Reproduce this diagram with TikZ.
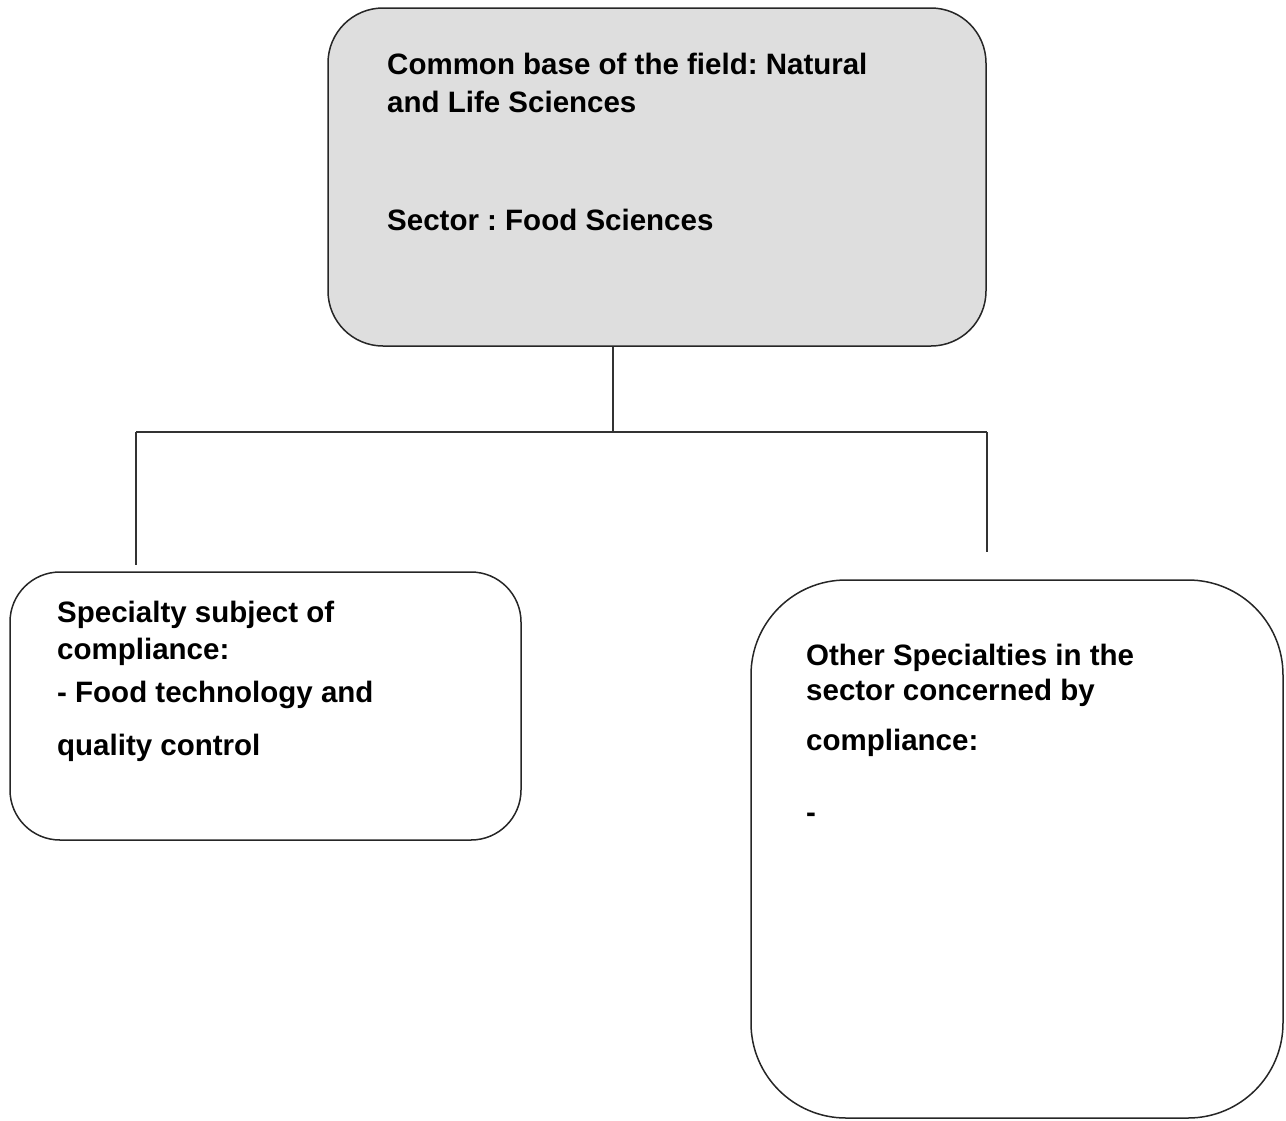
\documentclass[tikz,border=0pt]{standalone}
\usepackage{fontspec}
\setmainfont{Liberation Sans}
\frenchspacing
\begin{document}
\begin{tikzpicture}[x=1pt,y=-1pt,
  box/.style={draw=black!85, line width=1.5pt, rectangle, inner sep=0pt},
  txt/.style={anchor=base west, inner sep=0pt, font=\fontsize{29.5}{36}\selectfont\bfseries},
  conn/.style={draw=black!80, line width=1.5pt}]
\useasboundingbox (0,0) rectangle (1286,1120);
% boxes
\node[box, fill=black!13, rounded corners=55pt, minimum width=658pt, minimum height=338pt] (top) at (657,177) {};
\node[box, rounded corners=50pt, minimum width=511pt, minimum height=268pt] (left) at (265.5,706) {};
\node[box, rounded corners=95pt, minimum width=532pt, minimum height=538pt] (right) at (1017,849) {};
% texts
\node[txt] (t1) at (387,74) {Common base of the field: Natural};
\node[txt] (t2) at (387,112) {and Life Sciences};
\node[txt] (t3) at (387,230) {Sector : Food Sciences};
\node[txt] (l1) at (57,622) {Specialty subject of};
\node[txt] (l2) at (57,659) {compliance:};
\node[txt] (l3) at (57,702) {- Food technology and};
\node[txt] (l4) at (57,755) {quality control};
\node[txt] (r1) at (806,665) {Other Specialties in the};
\node[txt] (r2) at (806,700) {sector concerned by};
\node[txt] (r3) at (806,750) {compliance:};
\node[txt] (r4) at (806,822) {-};
% connectors
\coordinate (j) at (613,432);
\coordinate (jl) at (136,432);
\coordinate (jr) at (987,432);
\coordinate (le) at (136,565);
\coordinate (re) at (987,552);
\draw[conn] (top.south -| j) -- (j);
\draw[conn] (jl) -- (jr);
\draw[conn] (jl) -- (le);
\draw[conn] (jr) -- (re);
\end{tikzpicture}
\end{document}
